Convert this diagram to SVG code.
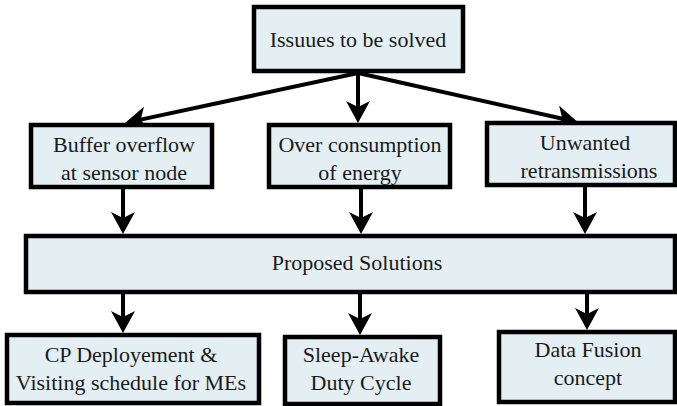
<svg xmlns="http://www.w3.org/2000/svg" width="677" height="406" viewBox="0 0 677 406">
<defs>
<style>
.box{fill:#e3eff3;stroke:#000;stroke-width:4.5}
.t{font-family:'Liberation Serif','DejaVu Serif','Times New Roman',serif;font-size:22px;fill:#1a1a1a;text-anchor:middle}
.c{stroke:#000;stroke-width:4;fill:none;marker-end:url(#ah)}
</style>
<marker id="ah" markerUnits="userSpaceOnUse" viewBox="0 0 22 24" refX="12" refY="12" markerWidth="22" markerHeight="24" orient="auto">
<path d="M22 12 L0 0 L6 12 L0 24 Z" fill="#000"/>
</marker>
</defs>
<rect width="677" height="406" fill="#fff"/>
<g id="connectors">
<line class="c" x1="358" y1="73" x2="134.8" y2="120.9"/>
<line class="c" x1="358" y1="73" x2="358" y2="113"/>
<line class="c" x1="358" y1="73" x2="568.2" y2="120"/>
<line class="c" x1="123" y1="189" x2="123" y2="224"/>
<line class="c" x1="361" y1="189" x2="361" y2="224"/>
<line class="c" x1="585" y1="187" x2="585" y2="224"/>
<line class="c" x1="123" y1="294" x2="123" y2="323"/>
<line class="c" x1="360" y1="294" x2="360" y2="325"/>
<line class="c" x1="587" y1="294" x2="587" y2="320"/>
</g>
<g id="issues"><rect class="box" x="254" y="7" width="209" height="64"/><text class="t" x="358" y="47">Issuues to be solved</text></g>
<g id="buffer"><rect class="box" x="31" y="125" width="181" height="62"/><text class="t" x="124" y="152">Buffer overflow</text><text class="t" x="124" y="180">at sensor node</text></g>
<g id="energy"><rect class="box" x="269" y="125" width="181" height="62"/><text class="t" x="360" y="152">Over consumption</text><text class="t" x="360" y="180">of energy</text></g>
<g id="retrans"><rect class="box" x="487" y="123" width="188" height="62"/><text class="t" x="585" y="150">Unwanted</text><text class="t" x="589" y="178">retransmissions</text></g>
<g id="proposed"><rect class="box" x="26" y="236" width="649" height="56"/><text class="t" x="357" y="270">Proposed Solutions</text></g>
<g id="cp"><rect class="box" x="7" y="335" width="252" height="68"/><text class="t" x="131" y="362">CP Deployement &amp;</text><text class="t" x="131" y="390">Visiting schedule for MEs</text></g>
<g id="sleep"><rect class="box" x="285" y="337" width="155" height="67"/><text class="t" x="361" y="362">Sleep-Awake</text><text class="t" x="361" y="390">Duty Cycle</text></g>
<g id="fusion"><rect class="box" x="499" y="332" width="176" height="70"/><text class="t" x="588" y="357">Data Fusion</text><text class="t" x="588" y="385">concept</text></g>
</svg>
